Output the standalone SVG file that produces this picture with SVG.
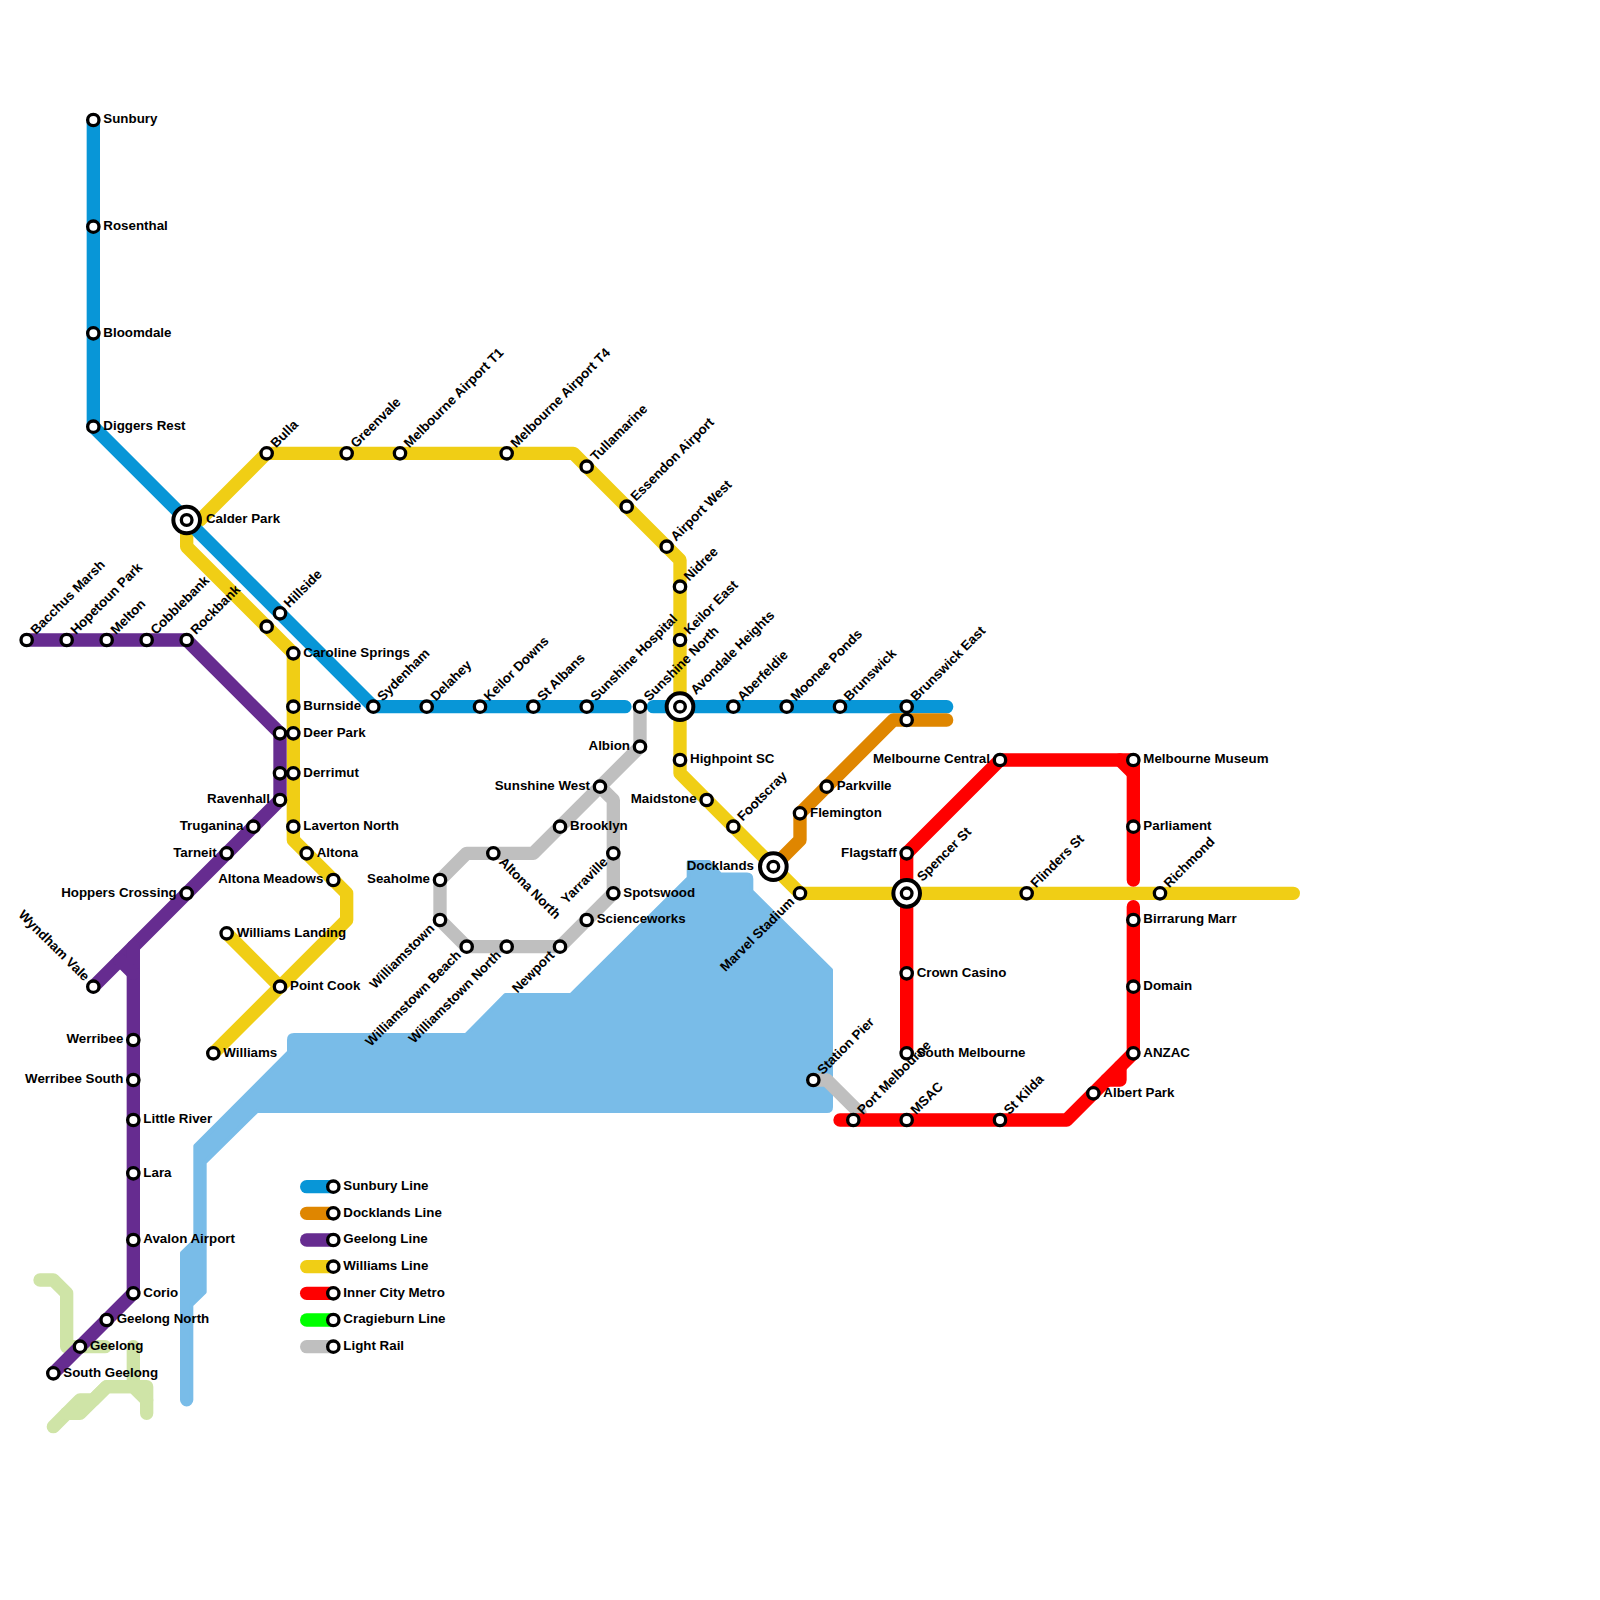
<svg xmlns="http://www.w3.org/2000/svg" width="1600" height="1600" viewBox="0 0 1600 1600">
<style>
.l{fill:none;stroke-width:13.33;stroke-linecap:round;stroke-linejoin:round}
.blue{stroke:#0896d7}.org{stroke:#df8600}.pur{stroke:#662c90}.yel{stroke:#f0ce15}.red{stroke:#ff0000}.grn{stroke:#00ff00}.gry{stroke:#bfbfbf}.pal{stroke:#cfe4a7}
.s{fill:#fff;stroke:#000;stroke-width:3.33}
.o{fill:#fff;stroke:#000;stroke-width:4}
text{font-family:"Liberation Sans",Arial,sans-serif;font-weight:700;font-size:13.33px;fill:#000}
.e{text-anchor:end}
</style>
<rect width="1600" height="1600" fill="#fff"/>
<g id="water">
<path fill="#79bce8" stroke="#79bce8" stroke-width="4" stroke-linejoin="round" d="M688.67 878V862H709L720.5 874.5H747Q751.33 874.5 751.33 879V891L831 970V1107Q831 1111 827 1111H257L204.67 1162.5V1292L191.33 1305V1400A4.67 4.67 0 0 1 182 1400V1253L195.33 1240V1146L289 1052V1040Q289 1035 294 1035H466L505.5 995H571Z"/>
</g>
<g id="land">
<path class="l pal" d="M40 1280H53.33L66.67 1293.33V1346.67H105"/>
<path class="l pal" d="M133.33 1346.67V1386.67"/>
<path class="l pal" d="M53.33 1426.67L80 1400H93.33L106.67 1386.67H146.67V1413.33"/>
<path class="l pal" d="M66.67 1413.33H80L106.67 1386.67H133.33L146.67 1400"/>
</g>
<g id="connectors">
<path id="light-rail" class="l gry" d="M640 706.67V746.67L533.33 853.33H466.67L440 880V920L466.67 946.67H560L613.33 893.33V800L600 786.67"/>
<path id="light-rail-pier" class="l gry" d="M813.33 1080H826.67L860 1113.33"/>
<path id="williams-1" class="l yel" d="M1293.33 893.33H800L680 773.33V560L573.33 453.33H266.67L200 520"/>
<path id="williams-2" class="l yel" d="M186.67 520V546.67L293.33 653.33V840L346.67 893.33V920L213.33 1053.33"/>
<path id="williams-3" class="l yel" d="M226.67 933.33L280 986.67"/>
<path id="sunbury-1" class="l blue" d="M93.33 120V426.67L373.33 706.67H625"/>
<path id="sunbury-2" class="l blue" d="M653.33 706.67H946.67"/>
<path id="docklands" class="l org" d="M773.33 866.67L800 840V813.33L893.33 720H946.67"/>
<path id="geelong-1" class="l pur" d="M26.67 640H186.67L280 733.33V800L93.33 986.67"/>
<path id="geelong-2" class="l pur" d="M133.33 946.67V1293.33L53.33 1373.33"/>
<path id="geelong-3" class="l pur" d="M120 960L133.33 973.33"/>
<path id="city-1" class="l red" d="M906.67 1053.33V853.33L1000 760H1133.33V880"/>
<path id="city-2" class="l red" d="M1120 760L1133.33 773.33"/>
<path id="city-3" class="l red" d="M840 1120H1066.67L1133.33 1053.33V906.67"/>
<path id="city-4" class="l red" d="M1106.67 1080H1120V1066.67"/>
<path id="key-sunbury" class="l blue" d="M306.67 1186.67H333.33"/>
<path id="key-docklands" class="l org" d="M306.67 1213.33H333.33"/>
<path id="key-geelong" class="l pur" d="M306.67 1240H333.33"/>
<path id="key-williams" class="l yel" d="M306.67 1266.67H333.33"/>
<path id="key-city" class="l red" d="M306.67 1293.33H333.33"/>
<path id="key-cragieburn" class="l grn" d="M306.67 1320H333.33"/>
<path id="key-light" class="l gry" d="M306.67 1346.67H333.33"/>
</g>
<g id="nodes">
<g id="n-sunbury" transform="translate(93.33 120)"><circle class="s" r="5.67"/><text x="10" y="3.2">Sunbury</text></g>
<g id="n-rosenthal" transform="translate(93.33 226.67)"><circle class="s" r="5.67"/><text x="10" y="3.2">Rosenthal</text></g>
<g id="n-bloomdale" transform="translate(93.33 333.33)"><circle class="s" r="5.67"/><text x="10" y="3.2">Bloomdale</text></g>
<g id="n-diggers" transform="translate(93.33 426.67)"><circle class="s" r="5.67"/><text x="10" y="3.2">Diggers Rest</text></g>
<g id="n-calder" transform="translate(186.67 520)"><circle class="o" r="13.33"/><circle class="s" r="5.33"/><text x="19.3" y="3.2">Calder Park</text></g>
<g id="n-bulla" transform="translate(266.67 453.33)"><circle class="s" r="5.67"/><text transform="rotate(-45)" x="10" y="3.2">Bulla</text></g>
<g id="n-greenvale" transform="translate(346.67 453.33)"><circle class="s" r="5.67"/><text transform="rotate(-45)" x="10" y="3.2">Greenvale</text></g>
<g id="n-t1" transform="translate(400 453.33)"><circle class="s" r="5.67"/><text transform="rotate(-45)" x="10" y="3.2">Melbourne Airport T1</text></g>
<g id="n-t4" transform="translate(506.67 453.33)"><circle class="s" r="5.67"/><text transform="rotate(-45)" x="10" y="3.2">Melbourne Airport T4</text></g>
<g id="n-tullamarine" transform="translate(586.67 466.67)"><circle class="s" r="5.67"/><text transform="rotate(-45)" x="10" y="3.2">Tullamarine</text></g>
<g id="n-essendon" transform="translate(626.67 506.67)"><circle class="s" r="5.67"/><text transform="rotate(-45)" x="10" y="3.2">Essendon Airport</text></g>
<g id="n-airportwest" transform="translate(666.67 546.67)"><circle class="s" r="5.67"/><text transform="rotate(-45)" x="10" y="3.2">Airport West</text></g>
<g id="n-nidree" transform="translate(680 586.67)"><circle class="s" r="5.67"/><text transform="rotate(-45)" x="10" y="3.2">Nidree</text></g>
<g id="n-keiloreast" transform="translate(680 640)"><circle class="s" r="5.67"/><text transform="rotate(-45)" x="10" y="3.2">Keilor East</text></g>
<g id="n-avondale" transform="translate(680 706.67)"><circle class="o" r="13.33"/><circle class="s" r="5.33"/><text transform="rotate(-45)" x="19.3" y="3.2">Avondale Heights</text></g>
<g id="n-highpoint" transform="translate(680 760)"><circle class="s" r="5.67"/><text x="10" y="3.2">Highpoint SC</text></g>
<g id="n-maidstone" transform="translate(706.67 800)"><circle class="s" r="5.67"/><text class="e" x="-10" y="3.2">Maidstone</text></g>
<g id="n-footscray" transform="translate(733.33 826.67)"><circle class="s" r="5.67"/><text transform="rotate(-45)" x="10" y="3.2">Footscray</text></g>
<g id="n-docklands" transform="translate(773.33 866.67)"><circle class="o" r="13.33"/><circle class="s" r="5.33"/><text class="e" x="-19.3" y="3.2">Docklands</text></g>
<g id="n-marvel" transform="translate(800 893.33)"><circle class="s" r="5.67"/><text class="e" transform="rotate(-45)" x="-10" y="3.2">Marvel Stadium</text></g>
<g id="n-spencer" transform="translate(906.67 893.33)"><circle class="o" r="13.33"/><circle class="s" r="5.33"/><text transform="rotate(-45)" x="19.3" y="3.2">Spencer St</text></g>
<g id="n-flinders" transform="translate(1026.67 893.33)"><circle class="s" r="5.67"/><text transform="rotate(-45)" x="10" y="3.2">Flinders St</text></g>
<g id="n-richmond" transform="translate(1160 893.33)"><circle class="s" r="5.67"/><text transform="rotate(-45)" x="10" y="3.2">Richmond</text></g>
<g id="n-hillside" transform="translate(280 613.33)"><circle class="s" r="5.67"/><text transform="rotate(-45)" x="10" y="3.2">Hillside</text></g>
<g id="n-yel-unnamed" transform="translate(266.67 626.67)"><circle class="s" r="5.67"/></g>
<g id="n-caroline" transform="translate(293.33 653.33)"><circle class="s" r="5.67"/><text x="10" y="3.2">Caroline Springs</text></g>
<g id="n-burnside" transform="translate(293.33 706.67)"><circle class="s" r="5.67"/><text x="10" y="3.2">Burnside</text></g>
<g id="n-sydenham" transform="translate(373.33 706.67)"><circle class="s" r="5.67"/><text transform="rotate(-45)" x="10" y="3.2">Sydenham</text></g>
<g id="n-delahey" transform="translate(426.67 706.67)"><circle class="s" r="5.67"/><text transform="rotate(-45)" x="10" y="3.2">Delahey</text></g>
<g id="n-keilordowns" transform="translate(480 706.67)"><circle class="s" r="5.67"/><text transform="rotate(-45)" x="10" y="3.2">Keilor Downs</text></g>
<g id="n-stalbans" transform="translate(533.33 706.67)"><circle class="s" r="5.67"/><text transform="rotate(-45)" x="10" y="3.2">St Albans</text></g>
<g id="n-sunshinehosp" transform="translate(586.67 706.67)"><circle class="s" r="5.67"/><text transform="rotate(-45)" x="10" y="3.2">Sunshine Hospital</text></g>
<g id="n-sunshinenorth" transform="translate(640 706.67)"><circle class="s" r="5.67"/><text transform="rotate(-45)" x="10" y="3.2">Sunshine North</text></g>
<g id="n-aberfeldie" transform="translate(733.33 706.67)"><circle class="s" r="5.67"/><text transform="rotate(-45)" x="10" y="3.2">Aberfeldie</text></g>
<g id="n-moonee" transform="translate(786.67 706.67)"><circle class="s" r="5.67"/><text transform="rotate(-45)" x="10" y="3.2">Moonee Ponds</text></g>
<g id="n-brunswick" transform="translate(840 706.67)"><circle class="s" r="5.67"/><text transform="rotate(-45)" x="10" y="3.2">Brunswick</text></g>
<g id="n-org-unnamed" transform="translate(906.67 720)"><circle class="s" r="5.67"/></g>
<g id="n-brunswickeast" transform="translate(906.67 706.67)"><circle class="s" r="5.67"/><text transform="rotate(-45)" x="10" y="3.2">Brunswick East</text></g>
<g id="n-bacchus" transform="translate(26.67 640)"><circle class="s" r="5.67"/><text transform="rotate(-45)" x="10" y="3.2">Bacchus Marsh</text></g>
<g id="n-hopetoun" transform="translate(66.67 640)"><circle class="s" r="5.67"/><text transform="rotate(-45)" x="10" y="3.2">Hopetoun Park</text></g>
<g id="n-melton" transform="translate(106.67 640)"><circle class="s" r="5.67"/><text transform="rotate(-45)" x="10" y="3.2">Melton</text></g>
<g id="n-cobblebank" transform="translate(146.67 640)"><circle class="s" r="5.67"/><text transform="rotate(-45)" x="10" y="3.2">Cobblebank</text></g>
<g id="n-rockbank" transform="translate(186.67 640)"><circle class="s" r="5.67"/><text transform="rotate(-45)" x="10" y="3.2">Rockbank</text></g>
<g id="n-pur-a" transform="translate(280 733.33)"><circle class="s" r="5.67"/></g>
<g id="n-deerpark" transform="translate(293.33 733.33)"><circle class="s" r="5.67"/><text x="10" y="3.2">Deer Park</text></g>
<g id="n-pur-b" transform="translate(280 773.33)"><circle class="s" r="5.67"/></g>
<g id="n-derrimut" transform="translate(293.33 773.33)"><circle class="s" r="5.67"/><text x="10" y="3.2">Derrimut</text></g>
<g id="n-ravenhall" transform="translate(280 800)"><circle class="s" r="5.67"/><text class="e" x="-10" y="3.2">Ravenhall</text></g>
<g id="n-truganina" transform="translate(253.33 826.67)"><circle class="s" r="5.67"/><text class="e" x="-10" y="3.2">Truganina</text></g>
<g id="n-tarneit" transform="translate(226.67 853.33)"><circle class="s" r="5.67"/><text class="e" x="-10" y="3.2">Tarneit</text></g>
<g id="n-hoppers" transform="translate(186.67 893.33)"><circle class="s" r="5.67"/><text class="e" x="-10" y="3.2">Hoppers Crossing</text></g>
<g id="n-wyndham" transform="translate(93.33 986.67)"><circle class="s" r="5.67"/><text class="e" transform="rotate(45)" x="-10" y="3.2">Wyndham Vale</text></g>
<g id="n-laverton" transform="translate(293.33 826.67)"><circle class="s" r="5.67"/><text x="10" y="3.2">Laverton North</text></g>
<g id="n-altona" transform="translate(306.67 853.33)"><circle class="s" r="5.67"/><text x="10" y="3.2">Altona</text></g>
<g id="n-altonameadows" transform="translate(333.33 880)"><circle class="s" r="5.67"/><text class="e" x="-10" y="3.2">Altona Meadows</text></g>
<g id="n-williamslanding" transform="translate(226.67 933.33)"><circle class="s" r="5.67"/><text x="10" y="3.2">Williams Landing</text></g>
<g id="n-pointcook" transform="translate(280 986.67)"><circle class="s" r="5.67"/><text x="10" y="3.2">Point Cook</text></g>
<g id="n-williams" transform="translate(213.33 1053.33)"><circle class="s" r="5.67"/><text x="10" y="3.2">Williams</text></g>
<g id="n-werribee" transform="translate(133.33 1040)"><circle class="s" r="5.67"/><text class="e" x="-10" y="3.2">Werribee</text></g>
<g id="n-werribeesouth" transform="translate(133.33 1080)"><circle class="s" r="5.67"/><text class="e" x="-10" y="3.2">Werribee South</text></g>
<g id="n-littleriver" transform="translate(133.33 1120)"><circle class="s" r="5.67"/><text x="10" y="3.2">Little River</text></g>
<g id="n-lara" transform="translate(133.33 1173.33)"><circle class="s" r="5.67"/><text x="10" y="3.2">Lara</text></g>
<g id="n-avalon" transform="translate(133.33 1240)"><circle class="s" r="5.67"/><text x="10" y="3.2">Avalon Airport</text></g>
<g id="n-corio" transform="translate(133.33 1293.33)"><circle class="s" r="5.67"/><text x="10" y="3.2">Corio</text></g>
<g id="n-geelongnorth" transform="translate(106.67 1320)"><circle class="s" r="5.67"/><text x="10" y="3.2">Geelong North</text></g>
<g id="n-geelong" transform="translate(80 1346.67)"><circle class="s" r="5.67"/><text x="10" y="3.2">Geelong</text></g>
<g id="n-southgeelong" transform="translate(53.33 1373.33)"><circle class="s" r="5.67"/><text x="10" y="3.2">South Geelong</text></g>
<g id="n-albion" transform="translate(640 746.67)"><circle class="s" r="5.67"/><text class="e" x="-10" y="3.2">Albion</text></g>
<g id="n-sunshinewest" transform="translate(600 786.67)"><circle class="s" r="5.67"/><text class="e" x="-10" y="3.2">Sunshine West</text></g>
<g id="n-brooklyn" transform="translate(560 826.67)"><circle class="s" r="5.67"/><text x="10" y="3.2">Brooklyn</text></g>
<g id="n-altonanorth" transform="translate(493.33 853.33)"><circle class="s" r="5.67"/><text transform="rotate(45)" x="10" y="3.2">Altona North</text></g>
<g id="n-seaholme" transform="translate(440 880)"><circle class="s" r="5.67"/><text class="e" x="-10" y="3.2">Seaholme</text></g>
<g id="n-williamstown" transform="translate(440 920)"><circle class="s" r="5.67"/><text class="e" transform="rotate(-45)" x="-10" y="3.2">Williamstown</text></g>
<g id="n-wbeach" transform="translate(466.67 946.67)"><circle class="s" r="5.67"/><text class="e" transform="rotate(-45)" x="-10" y="3.2">Williamstown Beach</text></g>
<g id="n-wnorth" transform="translate(506.67 946.67)"><circle class="s" r="5.67"/><text class="e" transform="rotate(-45)" x="-10" y="3.2">Williamstown North</text></g>
<g id="n-newport" transform="translate(560 946.67)"><circle class="s" r="5.67"/><text class="e" transform="rotate(-45)" x="-10" y="3.2">Newport</text></g>
<g id="n-scienceworks" transform="translate(586.67 920)"><circle class="s" r="5.67"/><text x="10" y="3.2">Scienceworks</text></g>
<g id="n-spotswood" transform="translate(613.33 893.33)"><circle class="s" r="5.67"/><text x="10" y="3.2">Spotswood</text></g>
<g id="n-yarraville" transform="translate(613.33 853.33)"><circle class="s" r="5.67"/><text class="e" transform="rotate(-45)" x="-10" y="3.2">Yarraville</text></g>
<g id="n-stationpier" transform="translate(813.33 1080)"><circle class="s" r="5.67"/><text transform="rotate(-45)" x="10" y="3.2">Station Pier</text></g>
<g id="n-portmelb" transform="translate(853.33 1120)"><circle class="s" r="5.67"/><text transform="rotate(-45)" x="10" y="3.2">Port Melbourne</text></g>
<g id="n-msac" transform="translate(906.67 1120)"><circle class="s" r="5.67"/><text transform="rotate(-45)" x="10" y="3.2">MSAC</text></g>
<g id="n-stkilda" transform="translate(1000 1120)"><circle class="s" r="5.67"/><text transform="rotate(-45)" x="10" y="3.2">St Kilda</text></g>
<g id="n-albertpark" transform="translate(1093.33 1093.33)"><circle class="s" r="5.67"/><text x="10" y="3.2">Albert Park</text></g>
<g id="n-anzac" transform="translate(1133.33 1053.33)"><circle class="s" r="5.67"/><text x="10" y="3.2">ANZAC</text></g>
<g id="n-domain" transform="translate(1133.33 986.67)"><circle class="s" r="5.67"/><text x="10" y="3.2">Domain</text></g>
<g id="n-birrarung" transform="translate(1133.33 920)"><circle class="s" r="5.67"/><text x="10" y="3.2">Birrarung Marr</text></g>
<g id="n-parliament" transform="translate(1133.33 826.67)"><circle class="s" r="5.67"/><text x="10" y="3.2">Parliament</text></g>
<g id="n-museum" transform="translate(1133.33 760)"><circle class="s" r="5.67"/><text x="10" y="3.2">Melbourne Museum</text></g>
<g id="n-central" transform="translate(1000 760)"><circle class="s" r="5.67"/><text class="e" x="-10" y="3.2">Melbourne Central</text></g>
<g id="n-flagstaff" transform="translate(906.67 853.33)"><circle class="s" r="5.67"/><text class="e" x="-10" y="3.2">Flagstaff</text></g>
<g id="n-crown" transform="translate(906.67 973.33)"><circle class="s" r="5.67"/><text x="10" y="3.2">Crown Casino</text></g>
<g id="n-southmelb" transform="translate(906.67 1053.33)"><circle class="s" r="5.67"/><text x="10" y="3.2">South Melbourne</text></g>
<g id="n-parkville" transform="translate(826.67 786.67)"><circle class="s" r="5.67"/><text x="10" y="3.2">Parkville</text></g>
<g id="n-flemington" transform="translate(800 813.33)"><circle class="s" r="5.67"/><text x="10" y="3.2">Flemington</text></g>
<g id="k-sunbury" transform="translate(333.33 1186.67)"><circle class="s" r="5.67"/><text x="10" y="3.2">Sunbury Line</text></g>
<g id="k-docklands" transform="translate(333.33 1213.33)"><circle class="s" r="5.67"/><text x="10" y="3.2">Docklands Line</text></g>
<g id="k-geelong" transform="translate(333.33 1240)"><circle class="s" r="5.67"/><text x="10" y="3.2">Geelong Line</text></g>
<g id="k-williams" transform="translate(333.33 1266.67)"><circle class="s" r="5.67"/><text x="10" y="3.2">Williams Line</text></g>
<g id="k-city" transform="translate(333.33 1293.33)"><circle class="s" r="5.67"/><text x="10" y="3.2">Inner City Metro</text></g>
<g id="k-cragieburn" transform="translate(333.33 1320)"><circle class="s" r="5.67"/><text x="10" y="3.2">Cragieburn Line</text></g>
<g id="k-light" transform="translate(333.33 1346.67)"><circle class="s" r="5.67"/><text x="10" y="3.2">Light Rail</text></g>
</g>
</svg>
